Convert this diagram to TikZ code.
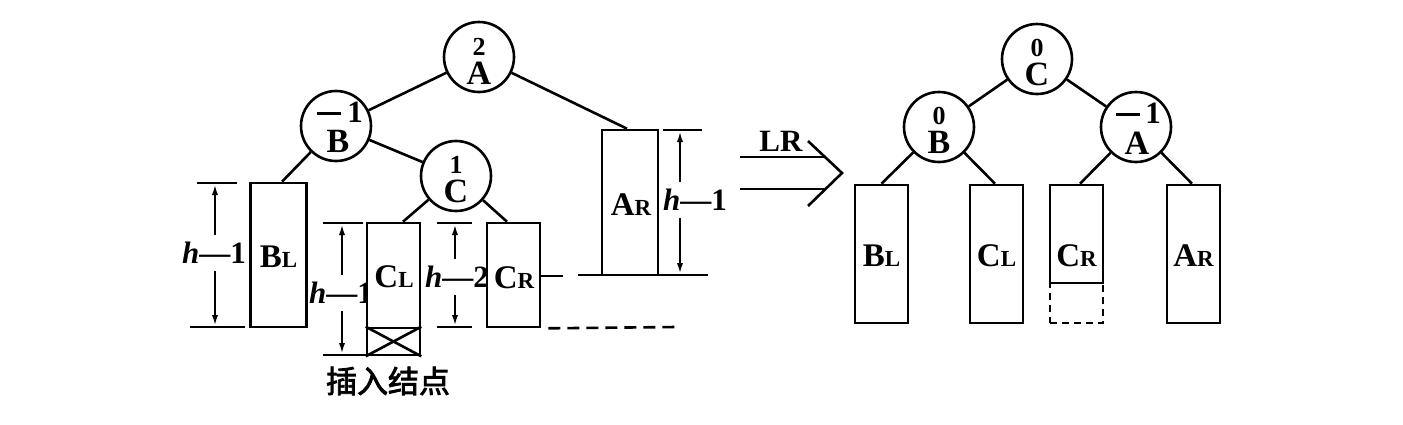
\documentclass[tikz,border=0pt]{standalone}
\usepackage{fontspec}
\setmainfont{Liberation Serif}
\newfontfamily\cjk{Noto Sans CJK SC}[AutoFakeBold=2.5]
\usetikzlibrary{arrows.meta}
\newcommand\blab[2]{#1{\fontsize{23}{23}\selectfont #2}}
\begin{document}
\begin{tikzpicture}[x=1pt,y=-1pt,line width=2.6pt,
  nd/.style={circle,draw,minimum size=70pt,inner sep=0pt},
  tbox/.style={draw,fill=white,inner sep=0pt,minimum width=53pt},
  lt/.style={font=\fontsize{34}{34}\selectfont\bfseries,inner sep=0pt},
  num/.style={font=\fontsize{26}{26}\selectfont\bfseries,inner sep=0pt},
  bignum/.style={font=\fontsize{31}{31}\selectfont\bfseries,inner sep=0pt},
  blabel/.style={font=\fontsize{33}{33}\selectfont\bfseries,inner sep=0pt},
  dimlab/.style={font=\fontsize{31}{31}\selectfont\bfseries,fill=white,inner xsep=0pt,inner ysep=7pt},
  dim/.style={{Latex[length=12pt,width=6pt]}-{Latex[length=12pt,width=6pt]}},
  tick/.style={line width=2.6pt},
  minus/.style={fill=black,minimum width=24pt,minimum height=3pt,inner sep=0pt}
]
\useasboundingbox (0,0) rectangle (1403,424);

% ---------------- left tree ----------------
\node[nd] (A) at (479,57) {};
\node[num] (A2) at (479,47) {2};
\node[lt] (Al) at (479,73) {A};

\node[nd] (B) at (336,126) {};
\node[minus] (Bm) at (329,113) {};
\node[bignum] (B1) at (355,112) {1};
\node[lt] (Bl) at (338,141) {B};

\node[nd] (C) at (456,176) {};
\node[num] (C1) at (456,165) {1};
\node[lt] (Cl) at (456,191) {C};

% dimension labels drawn before boxes (boxes cover them)
\coordinate (d1t) at (215,183); \coordinate (d1b) at (215,327);
\draw[dim] (d1t) -- (d1b);
\draw[tick] (197,183) coordinate (t1a) -- (237,183) coordinate (t1b);
\draw[tick] (190,327) coordinate (t1c) -- (245,327) coordinate (t1d);
\node[dimlab] (L1) at (214,253) {\textit{h}—1};

\coordinate (d2t) at (342,223); \coordinate (d2b) at (342,355);
\draw[dim] (d2t) -- (d2b);
\draw[tick] (323,223) coordinate (t2a) -- (363,223) coordinate (t2b);
\draw[tick] (323,355) coordinate (t2c) -- (367,355) coordinate (t2d);
\node[dimlab] (L2) at (341,293) {\textit{h}—1};

\coordinate (d3t) at (455,223); \coordinate (d3b) at (455,327);
\draw[dim] (d3t) -- (d3b);
\draw[tick] (437,223) coordinate (t3a) -- (472,223) coordinate (t3b);
\draw[tick] (437,327) coordinate (t3c) -- (472,327) coordinate (t3d);
\node[dimlab] (L3) at (457,277) {\textit{h}—2};

\coordinate (d4t) at (680,130); \coordinate (d4b) at (680,275);
\draw[dim] (d4t) -- (d4b);
\draw[tick] (663,130) coordinate (t4a) -- (702,130) coordinate (t4b);
\draw[tick] (578,275) coordinate (t4c) -- (708,275) coordinate (t4d);
\node[dimlab] (L4) at (695,200) {\textit{h}—1};

% boxes
\node[tbox,minimum width=56pt,minimum height=144pt] (BL) at (278.5,255) {};
\node[blabel] at (278.5,257) {\blab{B}{L}};
\node[tbox,minimum height=105pt] (CL) at (393.5,275.5) {};
\node[blabel] at (394,277) {\blab{C}{L}};
\node[tbox,minimum height=27pt] (CLx) at (393.5,341.5) {};
\draw (CLx.north west) -- (CLx.south east);
\draw (CLx.north east) -- (CLx.south west);
\node[tbox,minimum height=104pt] (CR) at (513.5,275) {};
\node[blabel] at (514,278) {\blab{C}{R}};
\node[tbox,minimum width=56pt,minimum height=145pt] (AR) at (630,202.5) {};
\node[blabel] at (631,205) {\blab{A}{R}};

% tree edges
\draw (A) -- (B);
\draw (A) -- ([xshift=-3pt]AR.north);
\draw (B) -- ([xshift=3.5pt]BL.north);
\draw (B) -- (C);
\draw (C) -- ([xshift=9.5pt]CL.north);
\draw (C) -- ([xshift=-6.5pt]CR.north);

% level lines
\coordinate (e1) at (563,276);
\draw (CR.east |- e1) -- (e1);
\coordinate (e2) at (676,327);
\draw[dash pattern=on 12pt off 7pt] (CR.south east) ++(7pt,0) -- (e2);

\node[font=\cjk\fontsize{31}{31}\selectfont\bfseries,inner sep=0pt] (ins) at (388,381) {插入结点};

% ---------------- LR arrow ----------------
\coordinate (r1) at (740,157); \coordinate (r1e) at (825,157);
\coordinate (r2) at (740,189); \coordinate (r2e) at (825,189);
\coordinate (h1) at (808,141); \coordinate (h2) at (842,173); \coordinate (h3) at (808,206);
\draw (r1) -- (r1e);
\draw (r2) -- (r2e);
\draw[line join=miter] (h1) -- (h2) -- (h3);
\node[bignum] (LR) at (781,141) {LR};

% ---------------- right tree ----------------
\node[nd] (rC) at (1037,59) {};
\node[num] (rC0) at (1037,48) {0};
\node[lt] (rCl) at (1037,74) {C};

\node[nd] (rB) at (939,127) {};
\node[num] (rB0) at (939,116) {0};
\node[lt] (rBl) at (939,142) {B};

\node[nd] (rA) at (1136,127) {};
\node[minus] (rAm) at (1128,114) {};
\node[bignum] (rA1) at (1153,113) {1};
\node[lt] (rAl) at (1137,143) {A};

\node[tbox,minimum height=138pt] (rBL) at (881.5,254) {};
\node[blabel] at (881.5,256) {\blab{B}{L}};
\node[tbox,minimum height=138pt] (rCL) at (996.5,254) {};
\node[blabel] at (996.5,256) {\blab{C}{L}};
\node[tbox,dash pattern=on 7pt off 5pt,minimum height=40pt] (rCRd) at (1076.5,303) {};
\node[tbox,minimum height=98pt] (rCR) at (1076.5,234) {};
\node[blabel] at (1076.5,256) {\blab{C}{R}};
\node[tbox,minimum height=138pt] (rAR) at (1193.5,254) {};
\node[blabel] at (1193.5,256) {\blab{A}{R}};

\draw (rC) -- (rB);
\draw (rC) -- (rA);
\draw (rB) -- (rBL.north);
\draw (rB) -- ([xshift=-1.5pt]rCL.north);
\draw (rA) -- ([xshift=3.5pt]rCR.north);
\draw (rA) -- ([xshift=-1.5pt]rAR.north);
\end{tikzpicture}
\end{document}
